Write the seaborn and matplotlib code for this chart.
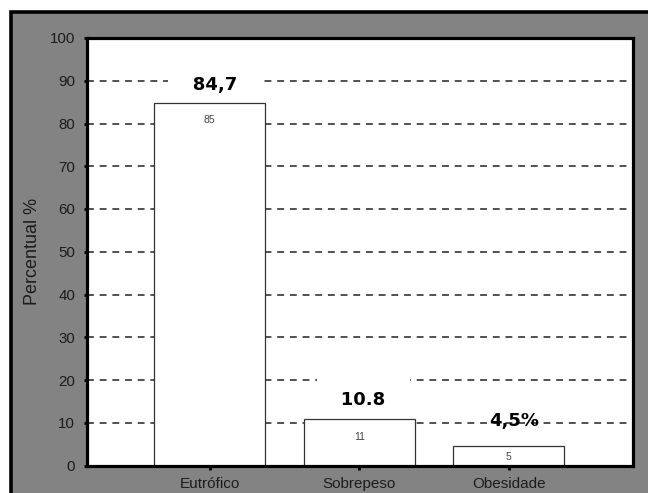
import matplotlib
matplotlib.use("Agg")
import matplotlib.pyplot as plt
from matplotlib.patches import Rectangle
import seaborn as sns
import pandas as pd

# Nutritional status distribution
categories = ["Eutrófico", "Sobrepeso", "Obesidade"]
percent = [84.7, 10.8, 4.5]
value_labels = ["84,7", "10.8", "4,5%"]
inner_labels = ["85", "11", "5"]
y_ticks = [0, 10, 20, 30, 40, 50, 60, 70, 80, 90, 100]

sns.set_theme(style="white")
plt.rcParams["font.family"] = ["Liberation Sans", "DejaVu Sans"]

df = pd.DataFrame({"categoria": categories, "percentual": percent})

fig = plt.figure(figsize=(6.48, 4.93), dpi=100, facecolor="white")

# grey frame behind the plotting area
frame = Rectangle((10.5 / 648, -0.2), 1.2, 1.2 - 11.5 / 493,
                  transform=fig.transFigure, facecolor="#838383",
                  edgecolor="black", linewidth=2.6, zorder=-5)
fig.patches.append(frame)

ax = fig.add_axes([87 / 648, 27.5 / 493, 546 / 648, 427.5 / 493])
ax.set_zorder(1)
ax.set_facecolor("white")

sns.barplot(data=df, x="categoria", y="percentual", ax=ax, color="white",
            edgecolor="#333333", linewidth=0.9, width=0.74, saturation=1,
            zorder=2)

ax.set_xlim(-0.82, 2.83)
ax.set_ylim(0, 100)
ax.set_yticks(y_ticks)
ax.set_yticklabels([str(t) for t in y_ticks])

# dashed horizontal grid
ax.set_axisbelow(True)
ax.yaxis.grid(True, color="#222222", linewidth=1.1, linestyle=(0, (4.5, 3.8)))
ax.xaxis.grid(False)

for side in ["left", "right", "top", "bottom"]:
    ax.spines[side].set_visible(True)
    ax.spines[side].set_color("black")
    ax.spines[side].set_linewidth(2.3)

ax.tick_params(axis="y", which="major", left=True, length=2.5, width=2,
               color="black", pad=6, labelsize=10.8, labelcolor="#1c1c1c")
ax.tick_params(axis="x", which="major", bottom=True, length=3, width=2,
               color="black", pad=5, labelsize=11, labelcolor="#1c1c1c")

ax.set_xlabel("")
ax.set_ylabel("Percentual %", fontsize=13, color="#1c1c1c")
ax.yaxis.set_label_coords(-0.084, 0.5)

# small rounded values inside each bar
inner_offsets = [-17, -18, -11]
for i, (val, txt, dy) in enumerate(zip(percent, inner_labels, inner_offsets)):
    ax.annotate(txt, xy=(i, val), xytext=(0, dy * 0.72), textcoords="offset points",
                ha="center", va="center", fontsize=7.5, color="#444444", zorder=3)

# bold value labels above each bar; the first two sit on a white patch
# that reaches upward over the dashed grid line
label_offsets = [(5, 9), (4, 10), (5, 25)]
label_boxes = [True, True, False]
for i, (val, txt, (dx, dy), boxed) in enumerate(
        zip(percent, value_labels, label_offsets, label_boxes)):
    if boxed:
        shown = " \n   " + txt + "   "
        kw = dict(va="bottom", linespacing=1.0,
                  bbox=dict(boxstyle="square,pad=0.3", facecolor="white",
                            edgecolor="none"))
    else:
        shown = txt
        kw = dict(va="center")
    ax.annotate(shown, xy=(i, val), xytext=(dx * 0.72, dy * 0.72),
                textcoords="offset points", ha="center",
                fontsize=13, fontweight="bold", family="DejaVu Sans",
                color="black", zorder=4, **kw)

fig.savefig("out.png", dpi=100, facecolor="white")
